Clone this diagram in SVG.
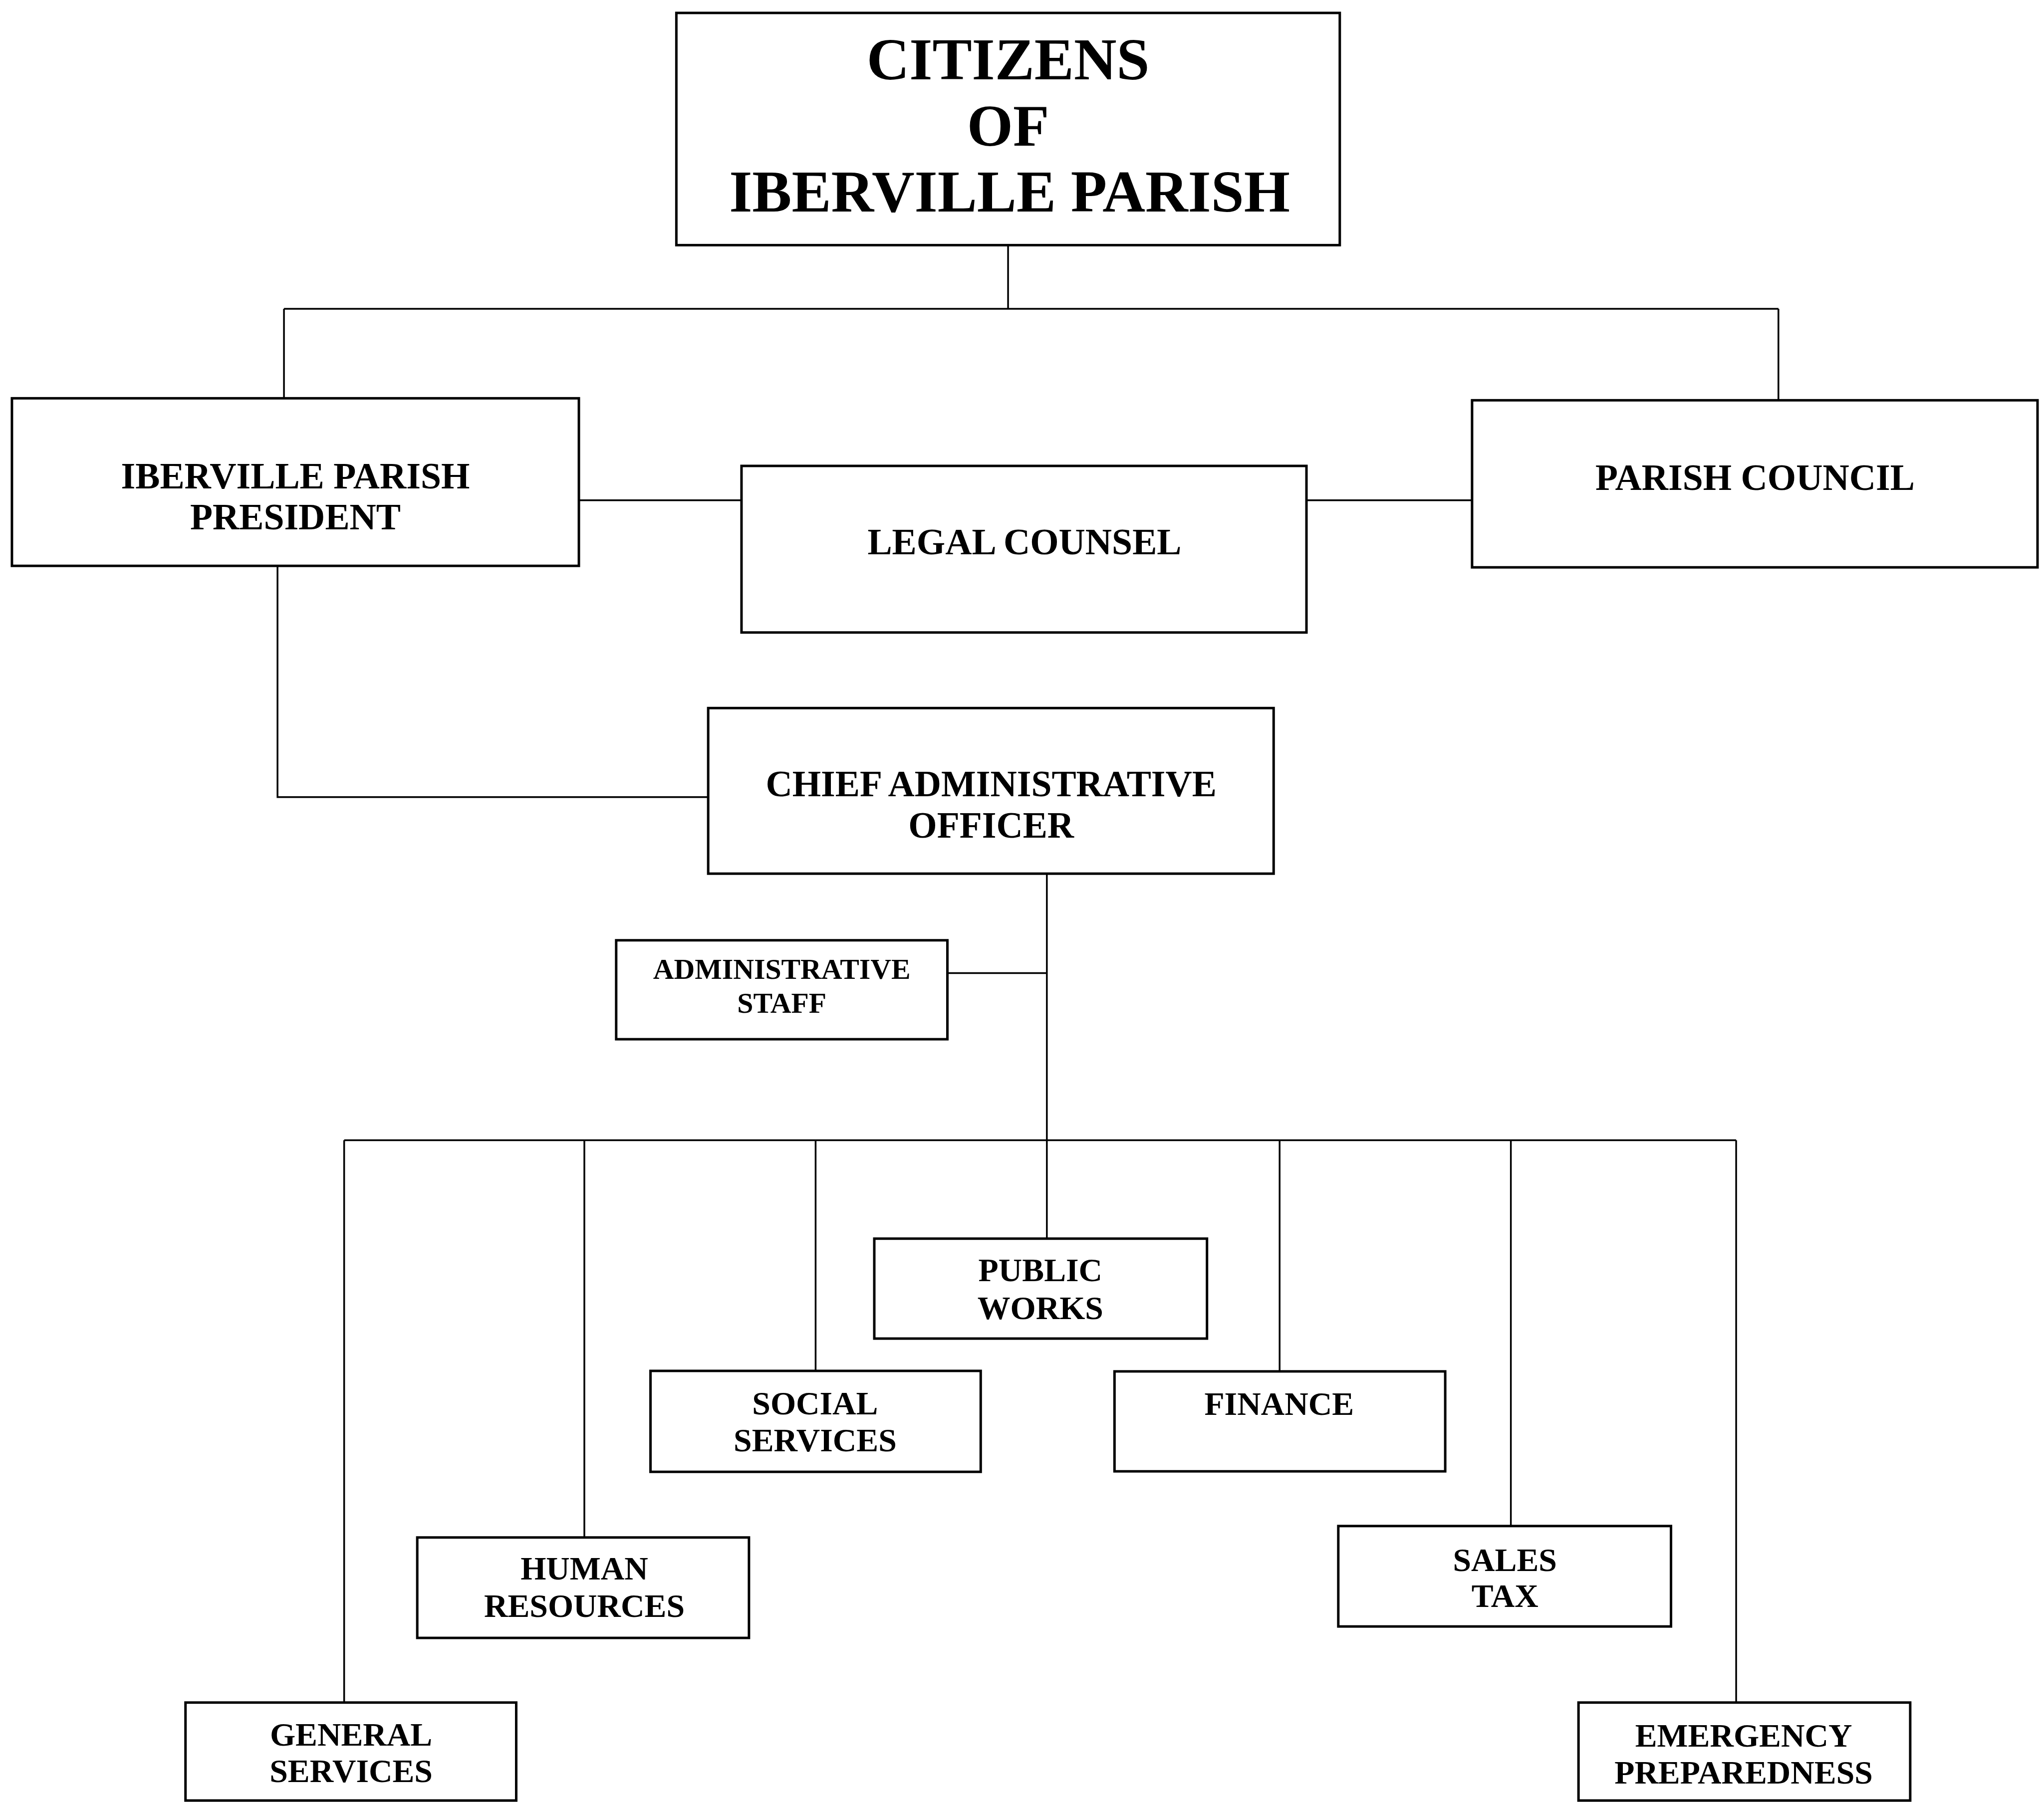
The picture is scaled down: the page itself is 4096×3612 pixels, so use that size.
<svg xmlns="http://www.w3.org/2000/svg" width="4096" height="3612" viewBox="0 0 4096 3612">
<style>
.box{fill:#fff;stroke:#000;stroke-width:5}
.con{fill:none;stroke:#000;stroke-width:3.5}
text{font-family:"Liberation Serif","Times New Roman",serif;font-weight:bold;text-anchor:middle;fill:#000}
.t1{font-size:119px}
.t2{font-size:74px}
.t3{font-size:58px}
.t4{font-size:66px}
</style>
<rect width="4096" height="3612" fill="#fff"/>
<g transform="scale(0.99659,0.99669)">
<g id="connectors">
<path class="con" d="M2027 493V621"/>
<path class="con" d="M571 621H3576"/>
<path class="con" d="M571 621V801"/>
<path class="con" d="M3576 621V805"/>
<path class="con" d="M1164 1006H1491"/>
<path class="con" d="M2627 1006H2960"/>
<path class="con" d="M558 1138V1603H1424"/>
<path class="con" d="M2105 1757V2293"/>
<path class="con" d="M1905 1957H2105"/>
<path class="con" d="M692 2293H3491"/>
<path class="con" d="M692 2293V3424"/>
<path class="con" d="M1175 2293V3092"/>
<path class="con" d="M1640 2293V2757"/>
<path class="con" d="M2105 2293V2491"/>
<path class="con" d="M2573 2293V2758"/>
<path class="con" d="M3038 2293V3069"/>
<path class="con" d="M3491 2293V3424"/>
</g>
<g id="citizens">
<rect class="box" x="1360" y="26" width="1334" height="467"/>
<text class="t1" x="2027" y="160">CITIZENS</text>
<text class="t1" x="2027" y="293">OF</text>
<text class="t1" x="2030" y="425">IBERVILLE PARISH</text>
</g>
<g id="president">
<rect class="box" x="24" y="801" width="1140" height="337"/>
<text class="t2" x="594" y="982">IBERVILLE PARISH</text>
<text class="t2" x="594" y="1065">PRESIDENT</text>
</g>
<g id="legal-counsel">
<rect class="box" x="1491" y="937" width="1136" height="335"/>
<text class="t2" x="2060" y="1115">LEGAL COUNSEL</text>
</g>
<g id="parish-council">
<rect class="box" x="2960" y="805" width="1137" height="336"/>
<text class="t2" x="3529" y="985">PARISH COUNCIL</text>
</g>
<g id="cao">
<rect class="box" x="1424" y="1424" width="1137" height="333"/>
<text class="t2" x="1993" y="1601">CHIEF ADMINISTRATIVE</text>
<text class="t2" x="1993" y="1685">OFFICER</text>
</g>
<g id="admin-staff">
<rect class="box" x="1239" y="1891" width="666" height="199"/>
<text class="t3" x="1572" y="1969">ADMINISTRATIVE</text>
<text class="t3" x="1572" y="2037">STAFF</text>
</g>
<g id="public-works">
<rect class="box" x="1758" y="2491" width="669" height="201"/>
<text class="t4" x="2092" y="2577">PUBLIC</text>
<text class="t4" x="2092" y="2653">WORKS</text>
</g>
<g id="social-services">
<rect class="box" x="1308" y="2757" width="664" height="203"/>
<text class="t4" x="1639" y="2844">SOCIAL</text>
<text class="t4" x="1639" y="2919">SERVICES</text>
</g>
<g id="finance">
<rect class="box" x="2241" y="2758" width="665" height="201"/>
<text class="t4" x="2572" y="2845">FINANCE</text>
</g>
<g id="sales-tax">
<rect class="box" x="2691" y="3069" width="669" height="202"/>
<text class="t4" x="3026" y="3159">SALES</text>
<text class="t4" x="3026" y="3232">TAX</text>
</g>
<g id="human-resources">
<rect class="box" x="839" y="3092" width="667" height="202"/>
<text class="t4" x="1175" y="3177">HUMAN</text>
<text class="t4" x="1175" y="3252">RESOURCES</text>
</g>
<g id="general-services">
<rect class="box" x="373" y="3424" width="665" height="197"/>
<text class="t4" x="706" y="3511">GENERAL</text>
<text class="t4" x="706" y="3584">SERVICES</text>
</g>
<g id="emergency-preparedness">
<rect class="box" x="3174" y="3424" width="667" height="197"/>
<text class="t4" x="3506" y="3513">EMERGENCY</text>
<text class="t4" x="3506" y="3587">PREPAREDNESS</text>
</g>
</g>
</svg>
